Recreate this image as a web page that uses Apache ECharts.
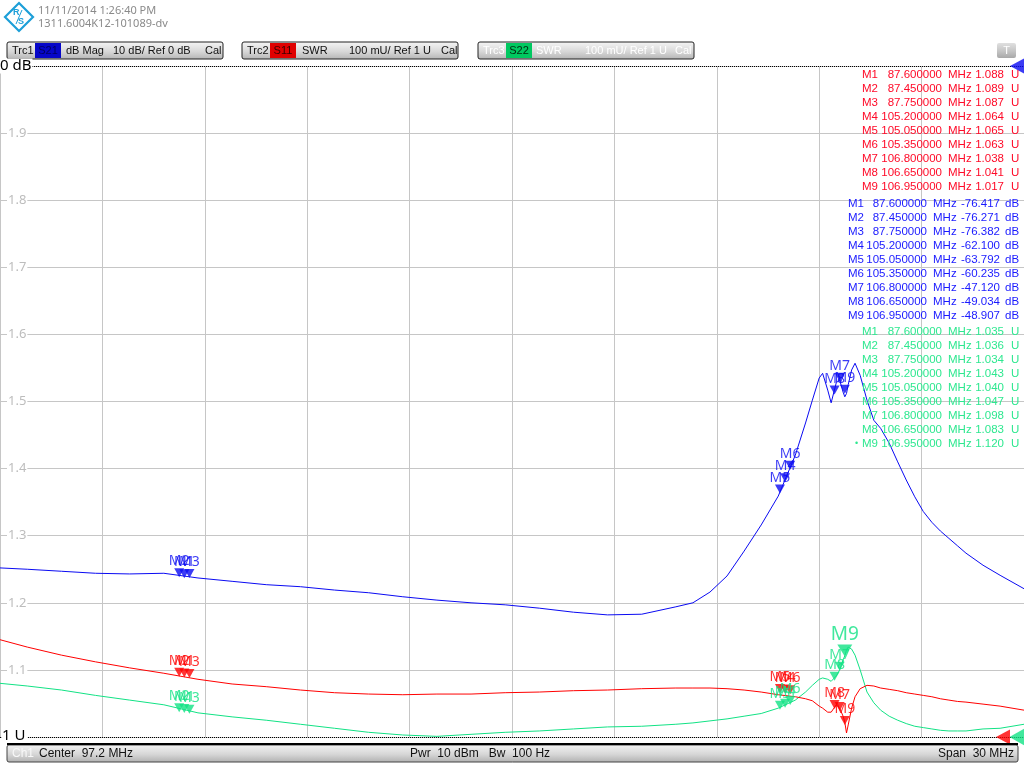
<!DOCTYPE html>
<html><head><meta charset="utf-8">
<script src="https://cdn.jsdelivr.net/npm/echarts@6/dist/echarts.min.js"></script>
<style>html,body{margin:0;padding:0;background:#fff}#c{width:1024px;height:768px}</style>
</head><body><div id="c"></div>
<script>
// ---- sweep settings ----
const centerMHz = 97.2;
const spanMHz = 30;

// ---- trace data ----
const freqMHz = [82.2, 83, 84, 85, 86, 87, 88, 89, 90, 91, 92, 93, 94, 95, 96, 97, 98, 99, 100, 101, 102, 102.5, 103, 103.5, 104, 104.5, 105, 105.5, 105.8, 106.0, 106.2, 106.3, 106.45, 106.55, 106.7, 106.8, 106.9, 106.95, 107.0, 107.05, 107.15, 107.25, 107.4, 107.6, 107.8, 108, 108.25, 108.5, 108.75, 109, 109.25, 109.5, 109.75, 110, 110.25, 110.5, 111, 111.5, 112.2];
const s21dB = [-74.8, -75.0, -75.3, -75.6, -75.7, -75.6, -76.3, -76.8, -77.3, -77.6, -78.1, -78.5, -79.1, -79.6, -80.0, -80.3, -80.8, -81.4, -81.8, -81.7, -80.6, -80.0, -78.4, -76.0, -72.3, -68.4, -64.1, -58.0, -53.2, -49.8, -46.5, -45.8, -48.3, -50.2, -47.2, -46.8, -48.6, -49.3, -48.8, -47.5, -45.3, -44.3, -46.1, -49.8, -52.8, -54.0, -56.2, -59.0, -61.7, -64.2, -66.4, -68.0, -69.3, -70.4, -71.5, -72.6, -74.4, -75.9, -77.9];
const s11SWR = [1.145, 1.134, 1.122, 1.112, 1.103, 1.095, 1.086, 1.079, 1.075, 1.070, 1.066, 1.064, 1.063, 1.064, 1.064, 1.066, 1.067, 1.069, 1.070, 1.072, 1.073, 1.073, 1.073, 1.072, 1.070, 1.067, 1.063, 1.060, 1.057, 1.054, 1.046, 1.043, 1.037, 1.037, 1.048, 1.043, 1.031, 1.022, 1.006, 1.018, 1.043, 1.060, 1.072, 1.077, 1.076, 1.073, 1.071, 1.069, 1.066, 1.064, 1.062, 1.060, 1.057, 1.055, 1.053, 1.052, 1.049, 1.046, 1.040];
const s22SWR = [1.080, 1.076, 1.070, 1.062, 1.055, 1.048, 1.036, 1.030, 1.025, 1.019, 1.013, 1.007, 1.003, 1.001, 1.004, 1.007, 1.009, 1.012, 1.015, 1.016, 1.019, 1.021, 1.024, 1.027, 1.031, 1.035, 1.043, 1.055, 1.067, 1.077, 1.086, 1.088, 1.086, 1.083, 1.091, 1.100, 1.115, 1.121, 1.130, 1.134, 1.131, 1.122, 1.100, 1.067, 1.051, 1.040, 1.031, 1.025, 1.020, 1.016, 1.014, 1.012, 1.010, 1.009, 1.009, 1.009, 1.012, 1.013, 1.019];

// ---- markers ----
const markerNames = ['M1', 'M2', 'M3', 'M4', 'M5', 'M6', 'M7', 'M8', 'M9'];
const markerFreqMHz = [87.60, 87.45, 87.75, 105.20, 105.05, 105.35, 106.80, 106.65, 106.95];
const s11Markers = [1.088, 1.089, 1.087, 1.064, 1.065, 1.063, 1.038, 1.041, 1.017];
const s21Markers = [-76.417, -76.271, -76.382, -62.100, -63.792, -60.235, -47.120, -49.034, -48.907];
const s22Markers = [1.035, 1.036, 1.034, 1.043, 1.040, 1.047, 1.098, 1.083, 1.120];

// ---- axis scales ----
const swrRange = [1, 2];      // 100 mU/div, ref 1 U
const dbRange = [-100, 0];    // 10 dB/div, ref 0 dB
const swrTickLabels = ['1.1', '1.2', '1.3', '1.4', '1.5', '1.6', '1.7', '1.8', '1.9'];

const BLUE = '#0a0af2', RED = '#ff0000', GREEN = '#12e285';
const TBLUE = '#1a1aff', TRED = '#ff0a28', TGREEN = '#2ee890';
const FONT = '"Noto Sans", "Liberation Sans", sans-serif';
const TFONT = '"Liberation Sans", Arial, sans-serif';

const fStart = centerMHz - spanMHz / 2, fStop = centerMHz + spanMHz / 2;

function pairs(xs, ys) { return xs.map((x, i) => [x, ys[i]]); }

function txt(x, y, s, o) {
  const st = Object.assign({ x: x, y: y, text: s, fill: '#000', font: '12px ' + TFONT,
    align: 'left', verticalAlign: 'middle', textAlign: 'left', textVerticalAlign: 'middle' }, o || {});
  if (o && o.align) st.textAlign = o.align;
  return { type: 'text', z: 100, silent: true, style: st };
}
function grad(c0, c1, c2) {
  return new echarts.graphic.LinearGradient(0, 0, 0, 1, [
    { offset: 0, color: c0 }, { offset: 0.55, color: c1 }, { offset: 1, color: c2 }]);
}
function rect(x, y, w, h, fill, stroke, r, z) {
  return { type: 'rect', z: z || 95, silent: true, shape: { x: x, y: y, width: w, height: h, r: r || 0 },
    style: { fill: fill, stroke: stroke || null, lineWidth: 1 } };
}

const g = [];
// logo
g.push({ type: 'polygon', z: 100, silent: true, shape: { points: [[19, 3], [33, 17], [19, 31], [5, 17]] },
  style: { fill: 'none', stroke: '#1d9fd8', lineWidth: 2.2 } });
g.push(txt(13, 13, 'R', { font: 'bold 9px ' + TFONT, fill: '#1d9fd8' }));
g.push(txt(18, 22, 'S', { font: 'bold 9px ' + TFONT, fill: '#1d9fd8' }));
g.push({ type: 'line', z: 100, silent: true, shape: { x1: 22, y1: 10, x2: 16, y2: 24 }, style: { stroke: '#1d9fd8', lineWidth: 1 } });
g.push(txt(38, 11, '11/11/2014 1:26:40 PM', { fill: '#8a8a8a', font: '11px ' + FONT }));
g.push(txt(38, 24, '1311.6004K12-101089-dv', { fill: '#8a8a8a', font: '11px ' + FONT }));

// trace buttons
const BF = '11px ' + TFONT;
function traceButton(x0, trc, s, sFill, sText, fields, textColor) {
  g.push(rect(x0, 42, 216, 17, grad('#f6f6f6', '#d8d8d8', '#b4b4b4'), '#222', 2));
  g.push(rect(x0 + 28, 43, 26, 15, sFill, null, 0, 96));
  g.push(txt(x0 + 5, 51, trc, { fill: textColor, font: BF }));
  g.push(txt(x0 + 41, 51, s, { fill: sText, align: 'center', font: BF }));
  fields.forEach(f => g.push(txt(x0 + f[0], 51, f[1], { fill: textColor, font: BF })));
}
traceButton(7, 'Trc1', 'S21', '#0606c8', '#000060', [[59, 'dB Mag'], [106, '10 dB/ Ref 0 dB'], [198, 'Cal']], '#111');
traceButton(242, 'Trc2', 'S11', '#e00000', '#3a0000', [[60, 'SWR'], [107, '100 mU/ Ref 1 U'], [199, 'Cal']], '#111');
traceButton(478, 'Trc3', 'S22', '#00c860', '#002a10', [[58, 'SWR'], [107, '100 mU/ Ref 1 U'], [197, 'Cal']], '#ffffff');
g.push(rect(997, 43, 19, 15, grad('#e0e0e0', '#c4c4c4', '#a8a8a8'), null, 2));
g.push(txt(1006.5, 50.5, 'T', { fill: '#fff', align: 'center', font: '11px ' + TFONT }));

// reference level labels
g.push(txt(0, 66, '0 dB', { font: '15px ' + FONT, backgroundColor: '#fff', padding: [0, 1, 0, 0] }));
g.push(txt(2, 736, '1 U', { font: '15px ' + FONT, backgroundColor: '#fff', padding: [0, 2, 0, 0] }));

// marker tables
const TF = '11.5px ' + TFONT;
function table(vals, unit, color, y0, c, dec) {
  markerNames.forEach((n, i) => {
    const y = y0 + i * 14;
    g.push(txt(c[0], y, n, { fill: color, font: TF }));
    g.push(txt(c[1], y, markerFreqMHz[i].toFixed(6), { fill: color, align: 'right', font: TF }));
    g.push(txt(c[2], y, 'MHz', { fill: color, font: TF }));
    g.push(txt(c[3], y, vals[i].toFixed(dec), { fill: color, align: 'right', font: TF }));
    g.push(txt(c[4], y, unit, { fill: color, font: TF }));
  });
}
table(s11Markers, 'U', TRED, 75, [862, 942, 948, 1004, 1011], 3);
table(s21Markers, 'dB', TBLUE, 204, [848, 927, 933, 1000, 1005], 3);
table(s22Markers, 'U', TGREEN, 332, [862, 942, 948, 1004, 1011], 3);
g.push(txt(855, 444, '•', { fill: TGREEN, font: '9px ' + TFONT }));

// bottom bar
g.push({ type: 'line', z: 100, silent: true, shape: { x1: 7, y1: 744, x2: 1018, y2: 744 }, style: { stroke: '#000', lineWidth: 2 } });
g.push(rect(7, 745, 1011, 17, grad('#f4f4f4', '#d6d6d6', '#b0b0b0'), '#444', 2));
g.push(txt(12, 754, 'Ch1', { fill: '#f8f8f8' }));
g.push(txt(39, 754, 'Center  ' + centerMHz + ' MHz', { fill: '#111' }));
g.push(txt(410, 754, 'Pwr  10 dBm   Bw  100 Hz', { fill: '#111' }));
g.push(txt(1014, 754, 'Span  ' + spanMHz + ' MHz', { fill: '#111', align: 'right' }));

function markerSeries(name, vals, color, yIdx, big) {
  return {
    name: name, type: 'scatter', xAxisIndex: 0, yAxisIndex: yIdx, clip: false, z: 5,
    symbol: 'triangle', symbolRotate: 180, symbolSize: [10, 9], symbolOffset: [0, -5],
    itemStyle: { color: color },
    label: { show: true, position: 'top', distance: 0, formatter: p => p.name, color: color, fontSize: 14, fontFamily: FONT },
    data: markerNames.map((n, i) => {
      const d = { name: n, value: [markerFreqMHz[i], vals[i]] };
      if (big && n === big) { d.symbolSize = [15, 12]; d.symbolOffset = [0, -6]; d.label = { fontSize: 19 }; }
      return d;
    })
  };
}

const option = {
  animation: false,
  backgroundColor: '#fff',
  grid: { left: 0, right: 0, top: 66, bottom: 31, containLabel: false },
  xAxis: [
    { type: 'value', min: fStart, max: fStop, show: false },
    { type: 'value', min: 0, max: 10, interval: 1, axisLine: { show: false }, axisTick: { show: false },
      axisLabel: { show: false }, splitLine: { show: true, lineStyle: { color: '#c6c6c6', width: 1 } } }
  ],
  yAxis: [
    { type: 'value', min: swrRange[0], max: swrRange[1], interval: 0.1,
      axisLine: { show: false }, axisTick: { show: false },
      splitLine: { show: true, lineStyle: { color: '#c6c6c6', width: 1 } },
      axisLabel: { inside: true, margin: 7, color: '#bdbdbd', fontSize: 13, fontFamily: FONT,
        backgroundColor: '#fff', padding: [0, 1],
        formatter: v => { const s = v.toFixed(1); return swrTickLabels.indexOf(s) >= 0 ? s : ''; } } },
    { type: 'value', min: dbRange[0], max: dbRange[1], show: false }
  ],
  graphic: g,
  series: [
    { name: 'S22', type: 'line', xAxisIndex: 0, yAxisIndex: 0, data: pairs(freqMHz, s22SWR), showSymbol: false,
      lineStyle: { color: GREEN, width: 1 }, itemStyle: { color: GREEN } },
    { name: 'S11', type: 'line', xAxisIndex: 0, yAxisIndex: 0, data: pairs(freqMHz, s11SWR), showSymbol: false,
      lineStyle: { color: RED, width: 1 }, itemStyle: { color: RED },
      markLine: { silent: true, symbol: ['none', 'none'], label: { show: false },
        lineStyle: { type: 'dotted', color: '#000', width: 1 }, data: [{ yAxis: swrRange[0] }] } },
    { name: 'S21', type: 'line', xAxisIndex: 0, yAxisIndex: 1, data: pairs(freqMHz, s21dB), showSymbol: false,
      lineStyle: { color: BLUE, width: 1 }, itemStyle: { color: BLUE },
      markLine: { silent: true, symbol: ['none', 'none'], label: { show: false },
        lineStyle: { type: 'dotted', color: '#000', width: 1 }, data: [{ yAxis: dbRange[1] }] } },
    markerSeries('S21 markers', s21Markers, BLUE, 1),
    markerSeries('S11 markers', s11Markers, RED, 0),
    markerSeries('S22 markers', s22Markers, GREEN, 0, 'M9'),
    { name: 'ref S21', type: 'scatter', xAxisIndex: 0, yAxisIndex: 1, clip: false, z: 6,
      symbol: 'triangle', symbolRotate: 90, symbolSize: [15, 14], symbolOffset: [-7, 0],
      itemStyle: { color: '#0a0af2' }, data: [[fStop, dbRange[1]]] },
    { name: 'ref S11', type: 'scatter', xAxisIndex: 0, yAxisIndex: 0, clip: false, z: 6,
      symbol: 'triangle', symbolRotate: 90, symbolSize: [15, 14], symbolOffset: [-21, 0],
      itemStyle: { color: '#ff0000' }, data: [[fStop, swrRange[0]]] },
    { name: 'ref S22', type: 'scatter', xAxisIndex: 0, yAxisIndex: 0, clip: false, z: 7,
      symbol: 'triangle', symbolRotate: 90, symbolSize: [17, 15], symbolOffset: [-7, 0],
      itemStyle: { color: '#12e285' }, data: [[fStop, swrRange[0]]] }
  ]
};
echarts.init(document.getElementById('c')).setOption(option);
</script>
</body></html>
